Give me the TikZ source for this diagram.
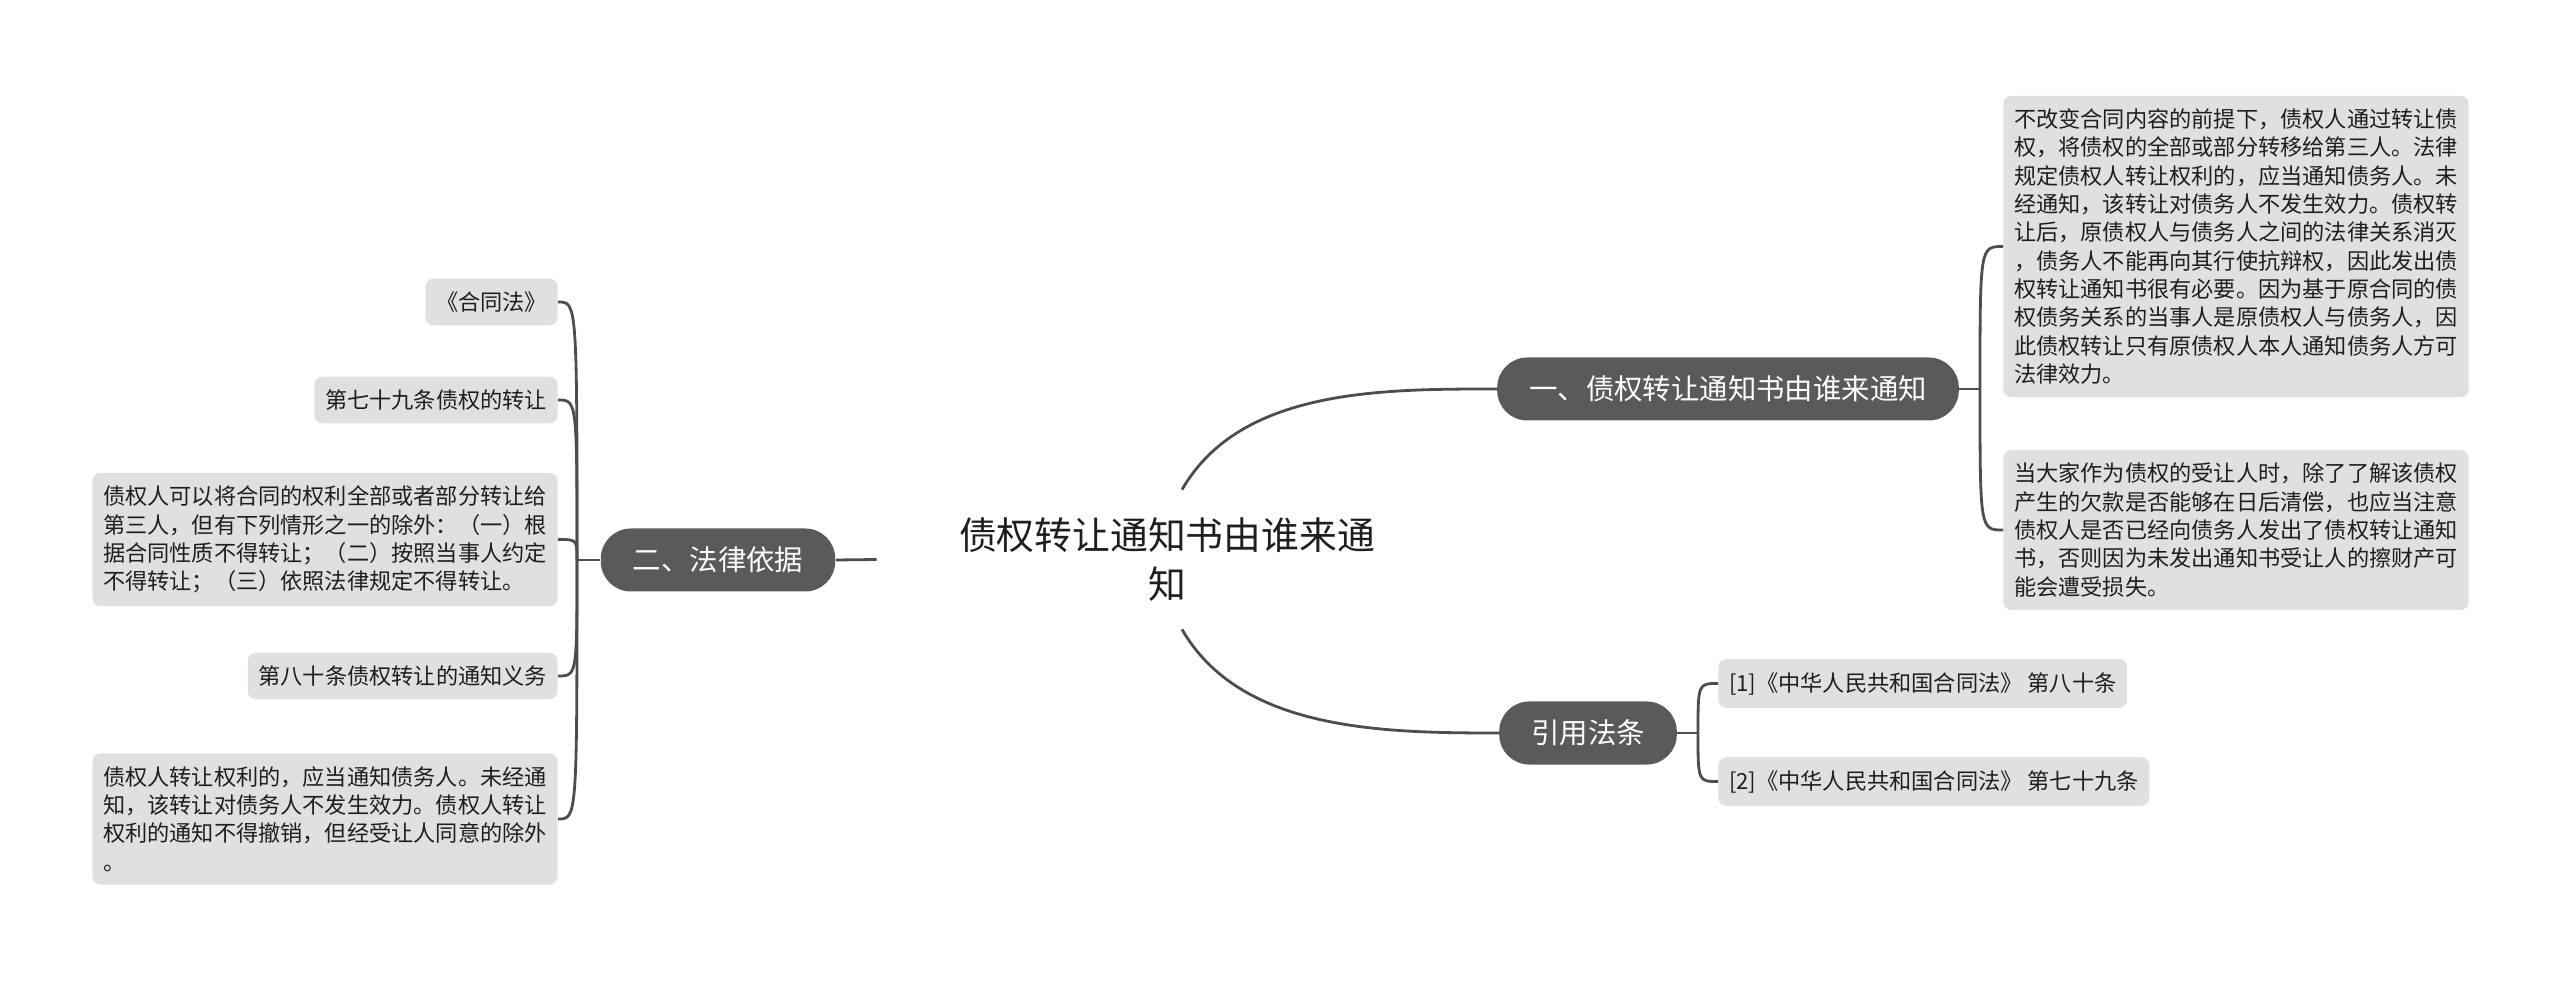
\documentclass[tikz,border=0pt]{standalone}
\usepackage{fontspec}
\setmainfont{Noto Sans CJK SC}

\definecolor{topicgray}{RGB}{90,90,90}
\definecolor{leafgray}{RGB}{224,224,224}
\definecolor{linegray}{RGB}{77,77,77}
\definecolor{textgray}{RGB}{30,30,30}

\begin{document}
\begin{tikzpicture}[x=0.5pt,y=-0.5pt,
  topic/.style={fill=topicgray, text=white, rounded corners=15pt, minimum height=31.5pt, inner xsep=16pt, font=\fontsize{14.2pt}{17pt}\selectfont},
  leaf/.style={fill=leafgray, text=textgray, rounded corners=4pt, inner xsep=5.3pt, inner ysep=6.5pt, align=left, font=\fontsize{11.1pt}{14.15pt}\selectfont},
  branch/.style={draw=linegray, line width=1.4pt}]
\useasboundingbox (0,0) rectangle (2560,983);

% centre
\node[minimum width=290pt, minimum height=69.5pt, inner sep=0pt, align=center, text=textgray,
  font=\fontsize{18.9pt}{24.5pt}\selectfont] (root) at (1167,559.5) {债权转让通知书由谁来通\\知};

% main topics
\node[topic] (b1) at (1728,389) {一、债权转让通知书由谁来通知};
\node[topic] (b2) at (718,560) {二、法律依据};
\node[topic] (b3) at (1588,733) {引用法条};

% right side
\node[leaf, anchor=west] (r1) at (2003,246.5) {不改变合同内容的前提下，债权人通过转让债\\权，将债权的全部或部分转移给第三人。法律\\规定债权人转让权利的，应当通知债务人。未\\经通知，该转让对债务人不发生效力。债权转\\让后，原债权人与债务人之间的法律关系消灭\\，债务人不能再向其行使抗辩权，因此发出债\\权转让通知书很有必要。因为基于原合同的债\\权债务关系的当事人是原债权人与债务人，因\\此债权转让只有原债权人本人通知债务人方可\\法律效力。};
\node[leaf, anchor=west] (r2) at (2003,530) {当大家作为债权的受让人时，除了了解该债权\\产生的欠款是否能够在日后清偿，也应当注意\\债权人是否已经向债务人发出了债权转让通知\\书，否则因为未发出通知书受让人的擦财产可\\能会遭受损失。};
\node[leaf, anchor=west] (c1) at (1718,683.5) {[1]《中华人民共和国合同法》 第八十条};
\node[leaf, anchor=west] (c2) at (1718,781.5) {[2]《中华人民共和国合同法》 第七十九条};

% left side
\node[leaf, anchor=east] (l1) at (558,302) {《合同法》};
\node[leaf, anchor=east] (l2) at (558,400) {第七十九条债权的转让};
\node[leaf, anchor=east] (l3) at (558,539.5) {债权人可以将合同的权利全部或者部分转让给\\第三人，但有下列情形之一的除外：（一）根\\据合同性质不得转让；（二）按照当事人约定\\不得转让；（三）依照法律规定不得转让。};
\node[leaf, anchor=east] (l4) at (558,676) {第八十条债权转让的通知义务};
\node[leaf, anchor=east] (l5) at (558,819) {债权人转让权利的，应当通知债务人。未经通\\知，该转让对债务人不发生效力。债权人转让\\权利的通知不得撤销，但经受让人同意的除外\\。};

% connectors
\draw[branch] ([xshift=7.5pt]root.north) to[out=60, in=180, looseness=0.9] (b1.west);
\draw[branch] ([xshift=7.5pt]root.south) to[out=-60, in=180, looseness=0.9] (b3.west);
\draw[branch] (root.west) -- (b2.east);

\coordinate (j1) at (1980,389);
\coordinate (j2) at (577,560);
\coordinate (j3) at (1698,733);
\draw[branch] (b1.east) -- (j1);
\draw[branch] (b2.west) -- (j2);
\draw[branch] (b3.east) -- (j3);
\foreach \n in {r1,r2}
  \draw[branch] (j1) .. controls (j1 |- \n.west) .. (\n.west);
\foreach \n in {c1,c2}
  \draw[branch] (j3) .. controls (j3 |- \n.west) .. (\n.west);
\foreach \n in {l1,l2,l3,l4,l5}
  \draw[branch] (j2) .. controls (j2 |- \n.east) .. (\n.east);
\end{tikzpicture}
\end{document}
